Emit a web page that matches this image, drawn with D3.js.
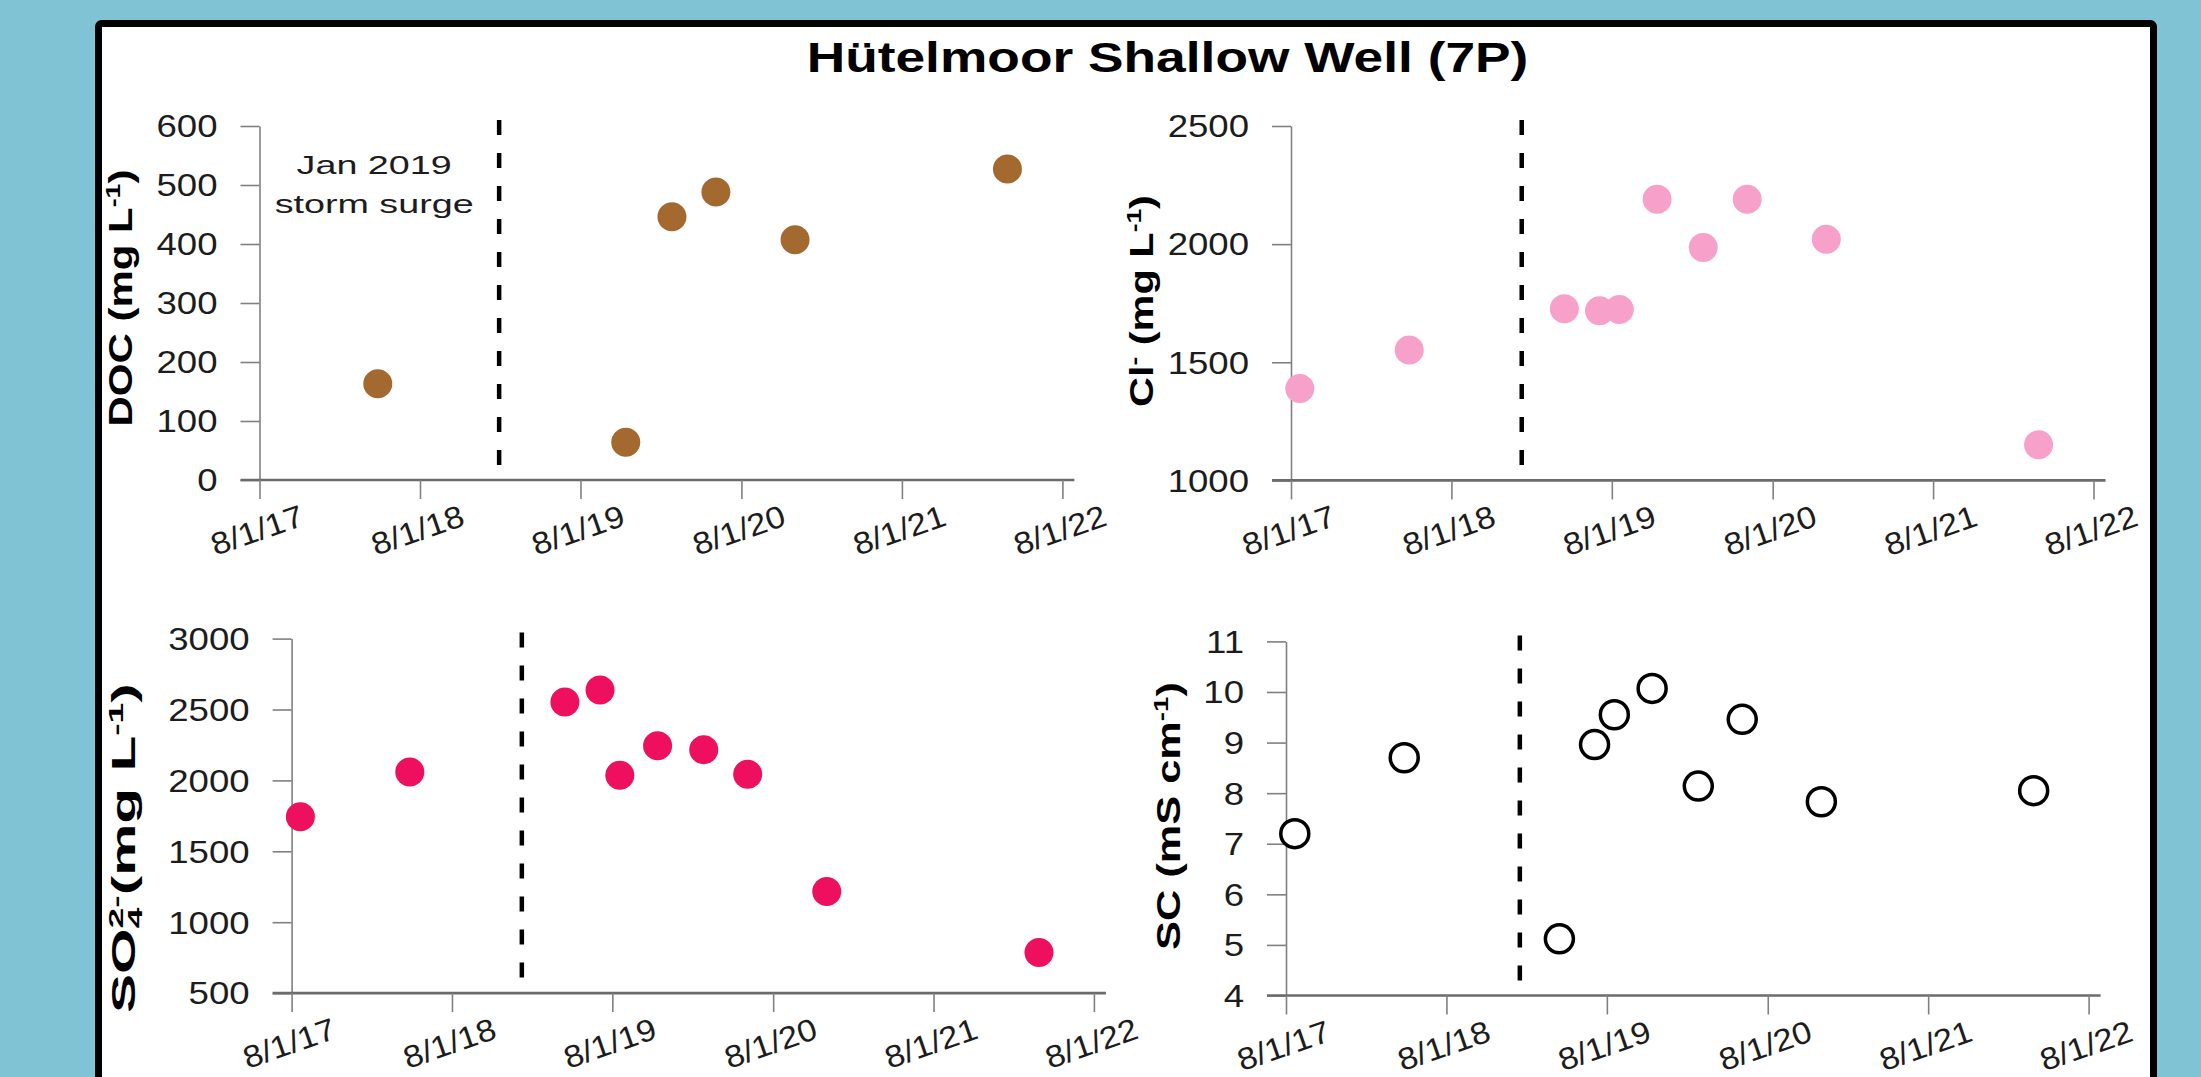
<!DOCTYPE html>
<html>
<head>
<meta charset="utf-8">
<script src="https://cdn.jsdelivr.net/npm/d3@7"></script>
<style>
  body { margin: 0; background: #80c3d5; }
  svg { display: block; font-family: 'Liberation Sans', Arial, sans-serif; }
</style>
</head>
<body>
<svg id="canvas" width="2201" height="1077"></svg>
<script>
// sampling dates shared by all four panels (null = not measured)
let sampleDates = ['2017-08-21', '2018-04-27', '2019-04-15', '2019-07-04', '2019-08-18',
                   '2019-11-12', '2020-02-25', '2020-06-04', '2020-12-01', '2022-03-29']
let docValues = [null, 163, null, null, null, 64, 446, 488, 407, 527]
let clValues  = [1389, 1552, 1726, 1718, 1723, 2190, 1986, 2190, 2021, 1151]
let so4Values = [1744, 2060, 2553, 2638, 2036, 2244, 2217, 2044, 1217, 787]
let scValues  = [7.2, 8.7, 5.12, 8.96, 9.55, 10.07, 8.14, 9.46, 7.83, 8.05]

let tickDates = ['2017-08-01', '2018-08-01', '2019-08-01', '2020-08-01', '2021-08-01', '2022-08-01']
let docTicks = [0, 100, 200, 300, 400, 500, 600]
let clTicks  = [1000, 1500, 2000, 2500]
let so4Ticks = [500, 1000, 1500, 2000, 2500, 3000]
let scTicks  = [4, 5, 6, 7, 8, 9, 10, 11]

let surgeDates = ['2019-01-28', '2019-01-08', '2019-01-07', '2019-01-15']
let surgeNote = ['Jan 2019', 'storm surge']
let chartTitle = 'Hütelmoor Shallow Well (7P)'

let docLabel = [['DOC (mg L', ''], ['-1', 'sup'], [')', '']]
let clLabel  = [['Cl', ''], ['-', 'sup'], [' (mg L', ''], ['-1', 'sup'], [')', '']]
let so4Label = [['SO', ''], ['4', 'sub'], ['2-', 'supback'], ['(mg L', ''], ['-1', 'sup'], [')', '']]
let scLabel  = [['SC (mS cm', ''], ['-1', 'sup'], [')', '']]

let parse = d3.timeParse('%Y-%m-%d')
let canvas = d3.select('#canvas')

// layout: [x of 8/1/17, x of 8/1/22, y top, y bottom], title [baseline x, centre y, length]
let panels = [
  {values: docValues, ticks: docTicks, surge: surgeDates[0], label: docLabel, fill: '#a3692f',
   box: [259.5, 1062.4, 126, 480], titleAt: [132, 298, 257], note: true},
  {values: clValues, ticks: clTicks, surge: surgeDates[1], label: clLabel, fill: '#f7a0ca',
   box: [1291, 2093.5, 126, 480.4], titleAt: [1153, 301, 212]},
  {values: so4Values, ticks: so4Ticks, surge: surgeDates[2], label: so4Label, fill: '#ee0f5e',
   box: [291.6, 1093.9, 638.6, 993.1], titleAt: [135, 848, 330]},
  {values: scValues, ticks: scTicks, surge: surgeDates[3], label: scLabel, fill: 'white', hollow: true,
   box: [1286, 2088.6, 641.4, 995.5], titleAt: [1180, 816, 268]}
]

canvas.append('rect')
  .attr('x', 98.5).attr('y', 23.5)
  .attr('width', 2055).attr('height', 1100)
  .attr('rx', 3)
  .attr('fill', 'white')
  .attr('stroke', '#000')
  .attr('stroke-width', 7)

canvas.append('text')
  .attr('transform', 'translate(1167.5,72) scale(1.24,1)')
  .attr('text-anchor', 'middle')
  .attr('font-size', 43)
  .attr('font-weight', 'bold')
  .attr('fill', '#000')
  .text(chartTitle)

let buildLabel = (text, parts) => {
  let shift = 0
  parts.forEach(([str, kind]) => {
    let target = (kind === 'sup' || kind === 'supback') ? -12 : kind === 'sub' ? 7 : 0
    let span = text.append('tspan').text(str).attr('dy', target - shift)
    if (kind !== '') span.attr('font-size', 21)
    if (kind === 'supback') span.attr('dx', -11.7)
    shift = target
  })
}

let drawPanel = (p) => {
  let [x0, x1, yTop, yBot] = p.box

  let x = d3.scaleTime()
            .domain([parse(tickDates[0]), parse(tickDates[tickDates.length - 1])])
            .range([x0, x1])
  let y = d3.scaleLinear()
            .domain(d3.extent(p.ticks))
            .range([yBot, yTop])

  let g = canvas.append('g')

  // y axis
  let yAxis = g.append('g')
    .attr('transform', 'translate(' + x0 + ',0)')
    .call(d3.axisLeft(y)
            .tickValues(p.ticks)
            .tickFormat(d3.format('d'))
            .tickSize(19)
            .tickSizeOuter(0))
    .attr('font-size', null)
    .attr('font-family', null)
  yAxis.select('.domain').attr('stroke', '#808080').attr('stroke-width', 1.6)
  yAxis.selectAll('.tick line').attr('stroke', '#808080').attr('stroke-width', 1.6)
  yAxis.selectAll('.tick text')
    .attr('x', 0)
    .attr('dy', '0.35em')
    .attr('font-size', 31)
    .attr('fill', '#1c1c1c')
    .attr('transform', 'translate(-42,0) scale(1.18,1)')

  // x axis
  let xAxis = g.append('g')
    .attr('transform', 'translate(0,' + yBot + ')')
    .call(d3.axisBottom(x)
            .tickValues(tickDates.map(parse))
            .tickFormat(d3.timeFormat('%-m/%-d/%y'))
            .tickSize(19)
            .tickSizeOuter(0))
    .attr('font-size', null)
    .attr('font-family', null)
  xAxis.select('.domain').remove()
  xAxis.insert('line', ':first-child')
    .attr('x1', x0 - 19).attr('x2', x1 + 12)
    .attr('stroke', '#6b6b6b').attr('stroke-width', 2.6)
  xAxis.selectAll('.tick line').attr('stroke', '#808080').attr('stroke-width', 1.6)
  xAxis.selectAll('.tick text')
    .attr('y', 0)
    .attr('dy', '0.35em')
    .attr('text-anchor', 'middle')
    .attr('font-size', 31)
    .attr('fill', '#1c1c1c')
    .attr('transform', 'translate(-3,50) rotate(-19) scale(1.11,1)')

  // storm surge marker
  let sx = x(parse(p.surge))
  g.append('line')
    .attr('x1', sx).attr('x2', sx)
    .attr('y1', yTop - 6).attr('y2', yBot)
    .attr('stroke', '#000')
    .attr('stroke-width', 4.5)
    .attr('stroke-dasharray', '15,18')

  if (p.note) {
    surgeNote.forEach((line, i) => {
      g.append('text')
        .attr('transform', 'translate(' + (sx - 125) + ',' + (174 + i * 39) + ') scale(1.45,1)')
        .attr('text-anchor', 'middle')
        .attr('font-size', 26)
        .attr('fill', '#1c1c1c')
        .text(line)
    })
  }

  // points
  let pts = sampleDates
    .map((d, j) => ({date: parse(d), value: p.values[j]}))
    .filter((d) => d.value !== null)

  g.selectAll('circle.pt')
    .data(pts)
    .enter()
    .append('circle')
    .attr('class', 'pt')
    .attr('cx', (d) => x(d.date))
    .attr('cy', (d) => y(d.value))
    .attr('r', p.hollow ? 14 : 14.5)
    .attr('fill', p.fill)
    .attr('stroke', p.hollow ? '#000' : 'none')
    .attr('stroke-width', 3.5)

  // axis title, stretched to the reference length
  let [tx, ty, tlen] = p.titleAt
  let tg = g.append('g')
  let t = tg.append('text')
    .attr('font-size', 33)
    .attr('font-weight', 'bold')
    .attr('fill', '#000')
  buildLabel(t, p.label)
  let bb = t.node().getBBox()
  tg.attr('transform', 'translate(' + tx + ',' + ty + ') rotate(-90) scale(' + (tlen / bb.width) + ',1) translate(' + (-(bb.x + bb.width / 2)) + ',0)')
}

panels.forEach(drawPanel)
</script>
</body>
</html>
